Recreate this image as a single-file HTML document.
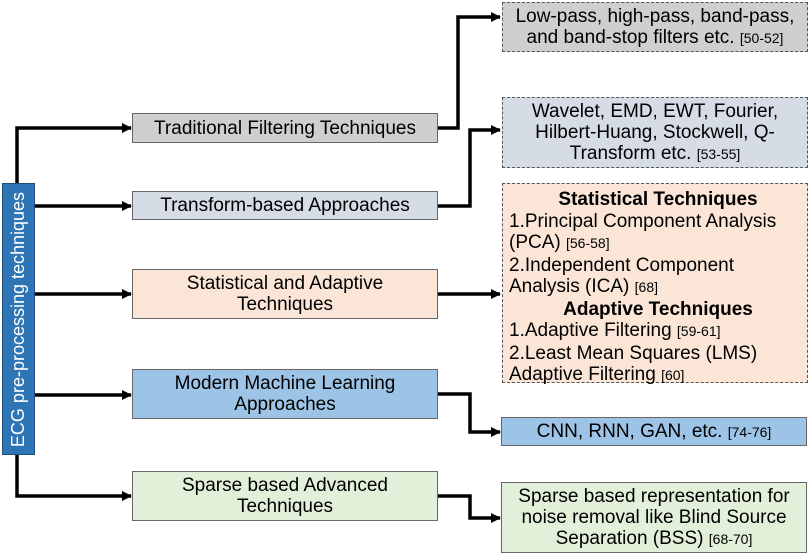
<!DOCTYPE html>
<html><head><meta charset="utf-8"><style>
body{margin:0;width:810px;height:556px;background:#fff;position:relative;overflow:hidden;font-family:"Liberation Sans",sans-serif;color:#000}
.b{position:absolute;box-sizing:border-box;border:1.5px solid #666;display:flex;align-items:center;justify-content:center;text-align:center;font-size:19px;line-height:21px;white-space:nowrap}
.d{border:1.5px dashed #555}
.r{font-size:14px}
</style></head><body>
<svg width="810" height="556" style="position:absolute;left:0;top:0">
<defs><marker id="a" markerWidth="10" markerHeight="10" refX="9" refY="5" orient="auto" markerUnits="userSpaceOnUse"><path d="M0,0 L10,5 L0,10 z" fill="#000"/></marker></defs>
<g fill="none" stroke="#000" stroke-width="3.5" marker-end="url(#a)">
<path d="M17,183 V128 H131"/>
<path d="M35,206 H131"/>
<path d="M35,294 H131"/>
<path d="M35,395 H131"/>
<path d="M17,455 V496 H131"/>
<path d="M438,128 H458 V17 H500"/>
<path d="M438,206 H470 V130 H500"/>
<path d="M438,294 H500"/>
<path d="M438,394 H470 V432 H500"/>
<path d="M438,496 H470 V518 H500"/>
</g>
</svg>
<div class="b" style="left:2px;top:183px;width:33px;height:272px;background:#2e75b6;border-color:#1f4e79"><div style="transform:rotate(-90deg);white-space:nowrap;color:#fff;font-size:18px">ECG pre-processing techniques</div></div>
<div class="b" style="left:132px;top:113px;width:306px;height:30px;background:#d0cece"><div>Traditional Filtering Techniques</div></div>
<div class="b" style="left:132px;top:191px;width:306px;height:29px;background:#d6dce5"><div>Transform-based Approaches</div></div>
<div class="b" style="left:132px;top:269px;width:306px;height:50px;background:#fbe5d6"><div>Statistical and Adaptive<br>Techniques</div></div>
<div class="b" style="left:132px;top:369px;width:306px;height:50px;background:#9dc3e6"><div>Modern Machine Learning<br>Approaches</div></div>
<div class="b" style="left:132px;top:471px;width:306px;height:50px;background:#e2f0d9"><div>Sparse based Advanced<br>Techniques</div></div>
<div class="b d" style="left:502px;top:2px;width:306px;height:50px;background:#d0cece"><div>Low-pass, high-pass, band-pass,<br>and band-stop filters etc. <span class="r">[50-52]</span></div></div>
<div class="b d" style="left:502px;top:97px;width:306px;height:71px;background:#d6dce5"><div>Wavelet, EMD, EWT, Fourier,<br>Hilbert-Huang, Stockwell, Q-<br>Transform etc. <span class="r">[53-55]</span></div></div>
<div class="b d" style="left:502px;top:183px;width:306px;height:200px;background:#fbe5d6;display:block;text-align:left;padding:5px 0 0 6px;line-height:21.5px">
<div style="text-align:center;font-weight:bold">Statistical Techniques</div>
1.Principal Component Analysis<br>(PCA) <span class="r">[56-58]</span><br>2.Independent Component<br>Analysis (ICA) <span class="r">[68]</span>
<div style="text-align:center;font-weight:bold">Adaptive Techniques</div>
1.Adaptive Filtering <span class="r">[59-61]</span><br>2.Least Mean Squares (LMS)<br>Adaptive Filtering <span class="r">[60]</span></div>
<div class="b" style="left:501px;top:417px;width:306px;height:29px;background:#9dc3e6"><div>CNN, RNN, GAN, etc. <span class="r">[74-76]</span></div></div>
<div class="b" style="left:501px;top:482px;width:306px;height:71px;background:#e2f0d9"><div>Sparse based representation for<br>noise removal like Blind Source<br>Separation (BSS) <span class="r">[68-70]</span></div></div>
</body></html>
